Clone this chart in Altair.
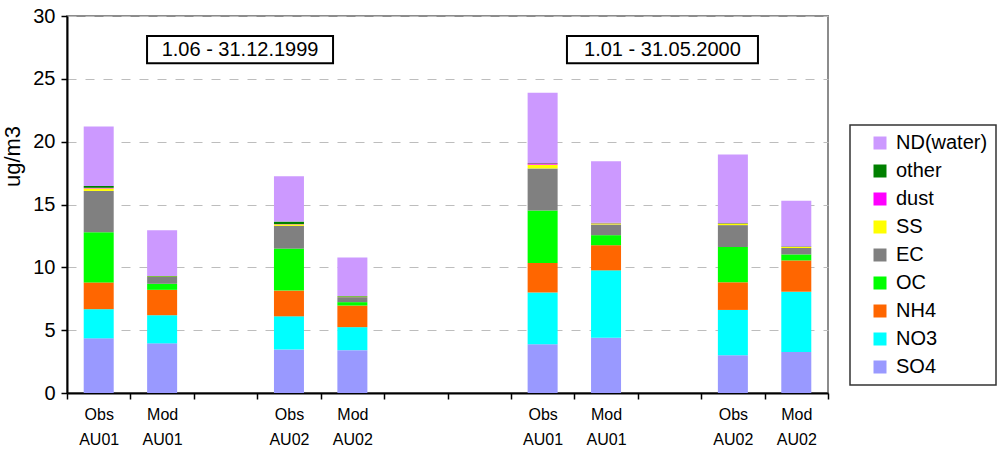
import altair as alt
import pandas as pd

# x slots (gaps are empty slots)
slots = ["Obs|AU01|1", "Mod|AU01|1", "gap1", "Obs|AU02|1", "Mod|AU02|1", "gap2",
         "gap3", "Obs|AU01|2", "Mod|AU01|2", "gap4", "Obs|AU02|2", "Mod|AU02|2"]
bars = ["Obs|AU01|1", "Mod|AU01|1", "Obs|AU02|1", "Mod|AU02|1",
        "Obs|AU01|2", "Mod|AU01|2", "Obs|AU02|2", "Mod|AU02|2"]

components = ["SO4", "NO3", "NH4", "OC", "EC", "SS", "dust", "other", "ND(water)"]
SO4   = [4.35, 3.95, 3.47, 3.41, 3.87, 4.40, 3.00, 3.27]
NO3   = [2.32, 2.24, 2.63, 1.83, 4.13, 5.36, 3.61, 4.79]
NH4   = [2.13, 2.02, 2.05, 1.72, 2.35, 2.00, 2.20, 2.49]
OC    = [4.00, 0.48, 3.34, 0.27, 4.18, 0.80, 2.81, 0.48]
EC    = [3.28, 0.54, 1.81, 0.40, 3.34, 0.85, 1.74, 0.51]
SS    = [0.20, 0.04, 0.12, 0.04, 0.30, 0.08, 0.12, 0.08]
dust  = [0.05, 0.00, 0.02, 0.00, 0.10, 0.02, 0.02, 0.02]
other = [0.15, 0.04, 0.20, 0.04, 0.03, 0.03, 0.03, 0.03]
ND    = [4.72, 3.65, 3.60, 3.07, 5.60, 4.91, 5.45, 3.63]
series = [SO4, NO3, NH4, OC, EC, SS, dust, other, ND]

colors = {"ND(water)": "#CC99FF", "other": "#008000", "dust": "#FF00FF", "SS": "#FFFF00",
          "EC": "#808080", "OC": "#00FF00", "NH4": "#FF6600", "NO3": "#00FFFF", "SO4": "#9999FF"}
legend_order = ["ND(water)", "other", "dust", "SS", "EC", "OC", "NH4", "NO3", "SO4"]

periods = ["1.06 - 31.12.1999", "1.01 - 31.05.2000"]
period_slots = ["gap1", "gap4"]
box_bottom = 26.25
box_top = 28.4
text_y = 27.33

FONT = "Liberation Sans"

rows = []
for j, (comp, vals) in enumerate(zip(components, series)):
    for b, v in zip(bars, vals):
        rows.append({"slot": b, "comp": comp, "val": v, "ord": j})
df = pd.DataFrame(rows)

label_expr = ("isString(datum.value) && indexof(datum.value,'|') >= 0 ? "
              "[split(datum.value,'|')[0], split(datum.value,'|')[1]] : ''")

xscale = alt.Scale(domain=slots, paddingInner=0, paddingOuter=0)
xaxis = alt.Axis(title=None, tickBand="extent", labelExpr=label_expr, labelAngle=0,
                 labelFontSize=16, labelLineHeight=25, labelPadding=7, tickSize=6,
                 labelOverlap=False, domainWidth=2)

yscale = alt.Scale(domain=[0, 30], nice=False)
yaxis = alt.Axis(title="ug/m3", values=[0, 5, 10, 15, 20, 25, 30], labelFontSize=20,
                 tickSize=6, labelPadding=6, gridDash=[9, 9], gridColor="#bdbdbd",
                 gridWidth=1.2, domainWidth=2, titleFontSize=22, titleFontWeight="normal",
                 titleX=-55, titleY=140, titleBaseline="middle", titleAlign="center")

bar_layer = alt.Chart(df).mark_bar(size=30).encode(
    x=alt.X("slot:N", scale=xscale, axis=xaxis),
    y=alt.Y("val:Q", scale=yscale, axis=yaxis, stack="zero"),
    color=alt.Color("comp:N",
                    scale=alt.Scale(domain=legend_order, range=[colors[c] for c in legend_order]),
                    legend=alt.Legend(title=None, orient="none", legendX=783, legendY=109,
                                      symbolType="square", symbolSize=169, symbolStrokeWidth=0,
                                      labelFontSize=20, labelFont=FONT, labelColor="black",
                                      rowPadding=8, padding=8, symbolOffset=12, labelOffset=6,
                                      strokeColor="#333333")),
    order=alt.Order("ord:Q", sort="ascending"),
)

layers = [bar_layer]
ann_dx = [14.5, -7]
ann_w = [186, 191]
for p, s, dx, w in zip(periods, period_slots, ann_dx, ann_w):
    adf = pd.DataFrame([{"slot": s, "y1": box_bottom, "y2": box_top, "ty": text_y, "text": p}])
    box = alt.Chart(adf).mark_bar(width=w, xOffset=dx, fill="white", stroke="black",
                                  strokeWidth=2).encode(
        x=alt.X("slot:N", scale=xscale, axis=xaxis),
        y=alt.Y("y1:Q", scale=yscale, axis=yaxis),
        y2="y2:Q",
    )
    txt = alt.Chart(adf).mark_text(dx=dx, fontSize=20, font=FONT, color="black",
                                   baseline="middle", align="center").encode(
        x=alt.X("slot:N", scale=xscale, axis=xaxis),
        y=alt.Y("ty:Q", scale=yscale, axis=yaxis),
        text="text:N",
    )
    layers += [box, txt]

chart = alt.layer(*layers).properties(
    width=761, height=377,
    autosize=alt.AutoSizeParams(type="none"),
    padding={"left": 67, "top": 16, "right": 178, "bottom": 60},
    background="white",
).configure_view(stroke="#8c8c8c", strokeWidth=2).configure_axis(
    domainColor="black", tickColor="black", labelColor="black", titleColor="black",
    labelFont=FONT, titleFont=FONT, tickWidth=1.5,
).configure_legend(strokeWidth=1.5)

chart.save("out.html", embed_options={"renderer": "svg", "actions": False})
